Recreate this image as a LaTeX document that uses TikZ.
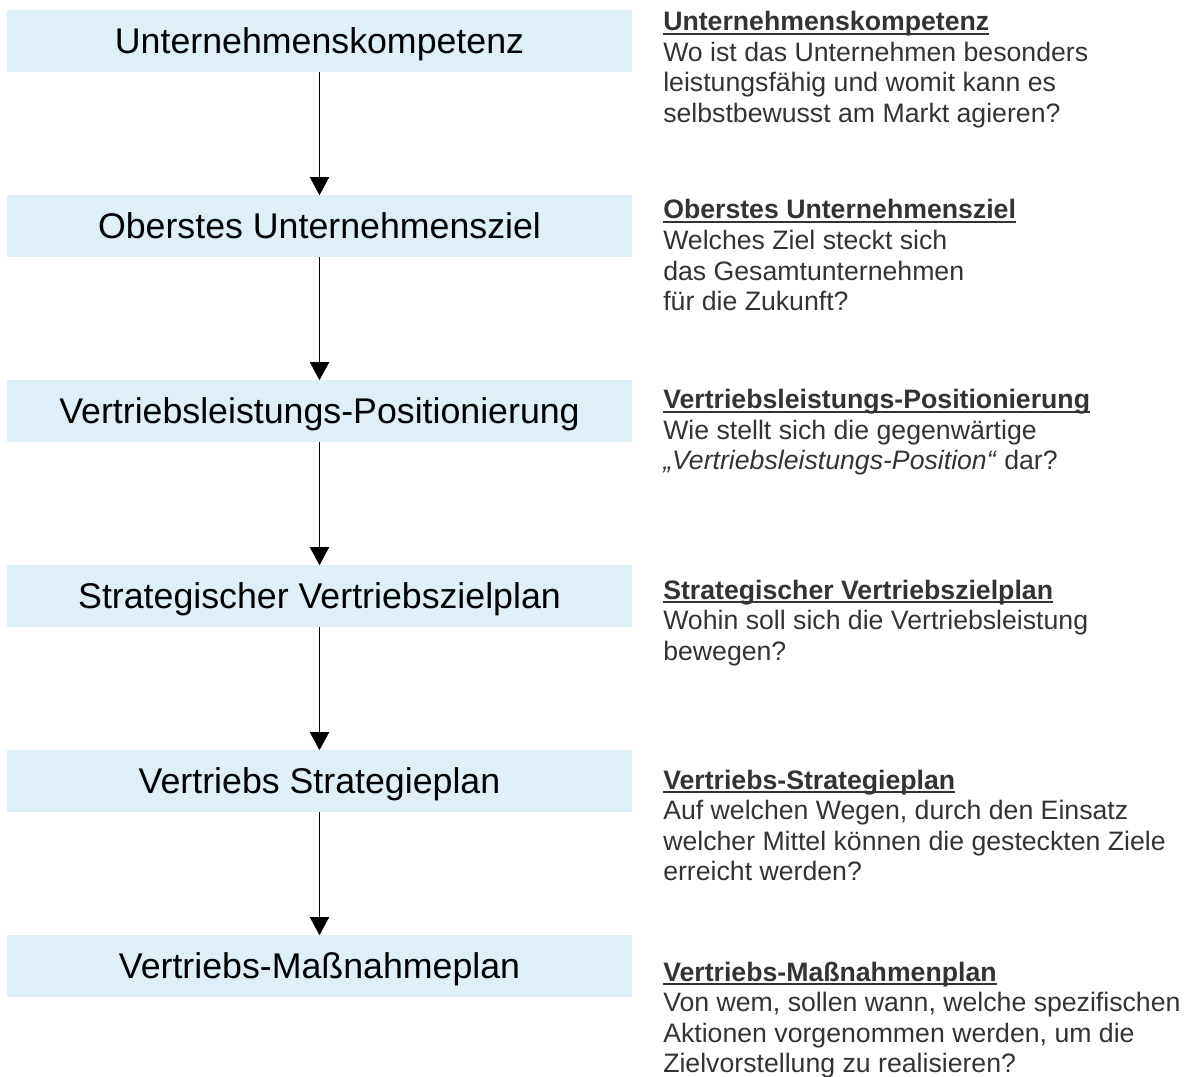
\documentclass[tikz,border=0pt]{standalone}
\usepackage{fontspec}
\setmainfont{Liberation Sans}
\usetikzlibrary{arrows.meta}
\definecolor{boxblue}{RGB}{223,239,248}
\definecolor{txtgray}{RGB}{51,51,51}
\newcommand\ttlline[1]{\leavevmode\setbox0\hbox{\bfseries #1}\rlap{\rule[-3.3pt]{\wd0}{1.5pt}}\box0}
\newcommand\descbox[1]{\parbox[t]{400pt}{\raggedright\fontsize{20pt}{22.9pt}\selectfont #1}}
\tikzset{
  stepbox/.style={rectangle, fill=boxblue, draw=none, minimum width=468.75pt, text height=32.5pt, text depth=13.3pt, inner sep=0pt, font=\fontsize{26.8pt}{30pt}\selectfont, text=black},
  desc/.style={anchor=base west, inner sep=0pt, text=txtgray},
  arr/.style={-{Triangle[width=14.3pt,length=13.5pt]}, line width=1pt, black}
}
\begin{document}
\begin{tikzpicture}[x=0.75pt,y=-0.75pt]
\useasboundingbox (0,0) rectangle (1195,1077);
\node[stepbox] (b1) at (319.5,41) {Unternehmenskompetenz};
\node[stepbox] (b2) at (319.5,226) {Oberstes Unternehmensziel};
\node[stepbox] (b3) at (319.5,411) {Vertriebsleistungs-Positionierung};
\node[stepbox] (b4) at (319.5,596) {Strategischer Vertriebszielplan};
\node[stepbox] (b5) at (319.5,781) {Vertriebs Strategieplan};
\node[stepbox] (b6) at (319.5,966) {Vertriebs-Maßnahmeplan};
\draw[arr] (b1.south) -- (b2.north);
\draw[arr] (b2.south) -- (b3.north);
\draw[arr] (b3.south) -- (b4.north);
\draw[arr] (b4.south) -- (b5.north);
\draw[arr] (b5.south) -- (b6.north);
\node[desc] (d1) at (663,30.5) {\descbox{\ttlline{Unternehmenskompetenz}\\Wo ist das Unternehmen besonders\\leistungsfähig und womit kann es\\selbstbewusst am Markt agieren?}};
\node[desc] (d2) at (663,219) {\descbox{\ttlline{Oberstes Unternehmensziel}\\Welches Ziel steckt sich\\das Gesamtunternehmen\\für die Zukunft?}};
\node[desc] (d3) at (663,408.5) {\descbox{\ttlline{Vertriebsleistungs-Positionierung}\\Wie stellt sich die gegenwärtige\\\textit{„Vertriebsleistungs-Position“} dar?}};
\node[desc] (d4) at (663,599) {\descbox{\ttlline{Strategischer Vertriebszielplan}\\Wohin soll sich die Vertriebsleistung\\bewegen?}};
\node[desc] (d5) at (663,789) {\descbox{\ttlline{Vertriebs-Strategieplan}\\Auf welchen Wegen, durch den Einsatz\\welcher Mittel können die gesteckten Ziele\\erreicht werden?}};
\node[desc] (d6) at (663,981) {\descbox{\ttlline{Vertriebs-Maßnahmenplan}\\Von wem, sollen wann, welche spezifischen\\Aktionen vorgenommen werden, um die\\Zielvorstellung zu realisieren?}};
\end{tikzpicture}
\end{document}
